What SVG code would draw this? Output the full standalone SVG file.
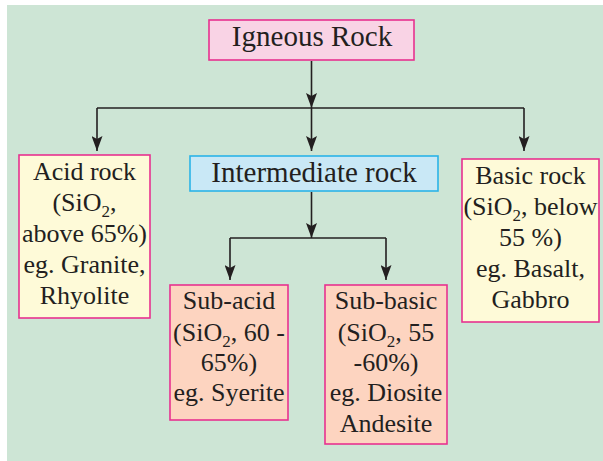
<svg xmlns="http://www.w3.org/2000/svg" width="603" height="461" viewBox="0 0 603 461">
<style>
  text { font-family: 'Liberation Serif', 'Times New Roman', serif; fill: #231f20; text-anchor: middle; }
  .t { font-size: 29px; }
  .b { font-size: 26px; }
  .sub { font-size: 17px; }
  .pink { fill: #f9d3e5; stroke: #e8318f; stroke-width: 1.6; }
  .yel { fill: #fefad8; stroke: #e8318f; stroke-width: 1.6; }
  .blue { fill: #c9e8f6; stroke: #2bb3e8; stroke-width: 1.6; }
  .peach { fill: #fdd4c0; stroke: #e8318f; stroke-width: 1.6; }
  .ln { fill: none; stroke: #231f20; stroke-width: 1.6; }
</style>
<defs>
  <marker id="ah" markerUnits="userSpaceOnUse" markerWidth="15" markerHeight="11" viewBox="0 0 15 11" refX="15" refY="5.5" orient="auto">
    <path d="M0,0 L15,5.5 L0,11 L3,5.5 Z" fill="#231f20"/>
  </marker>
</defs>
<rect x="7" y="5" width="596" height="456" fill="#cde5d5"/>

<g id="connectors">
  <path class="ln" d="M311.5,61 V108" marker-end="url(#ah)"/>
  <path class="ln" d="M97,108 H524"/>
  <path class="ln" d="M97,108 V151" marker-end="url(#ah)"/>
  <path class="ln" d="M311.5,108 V151" marker-end="url(#ah)"/>
  <path class="ln" d="M524,108 V151" marker-end="url(#ah)"/>
  <path class="ln" d="M311.5,192 V238" marker-end="url(#ah)"/>
  <path class="ln" d="M230,238 H386"/>
  <path class="ln" d="M230,238 V280" marker-end="url(#ah)"/>
  <path class="ln" d="M386,238 V280" marker-end="url(#ah)"/>
</g>

<g id="igneous">
  <rect class="pink" x="209" y="20" width="205" height="40"/>
  <text class="t" x="312" y="46">Igneous Rock</text>
</g>

<g id="acid">
  <rect class="yel" x="19" y="155" width="131" height="163"/>
  <text class="b" x="84.5" y="180">Acid rock</text>
  <text class="b" x="84.5" y="211">(SiO<tspan class="sub" dy="6">2</tspan><tspan dy="-6">,</tspan></text>
  <text class="b" x="84.5" y="242">above 65%)</text>
  <text class="b" x="84.5" y="273">eg. Granite,</text>
  <text class="b" x="84.5" y="304">Rhyolite</text>
</g>

<g id="intermediate">
  <rect class="blue" x="190" y="156" width="248" height="35"/>
  <text class="t" x="314" y="182">Intermediate rock</text>
</g>

<g id="basic">
  <rect class="yel" x="462" y="159" width="137" height="163"/>
  <text class="b" x="530.5" y="184">Basic rock</text>
  <text class="b" x="530.5" y="215">(SiO<tspan class="sub" dy="6">2</tspan><tspan dy="-6">, below</tspan></text>
  <text class="b" x="530.5" y="246">55 %)</text>
  <text class="b" x="530.5" y="277">eg. Basalt,</text>
  <text class="b" x="530.5" y="308">Gabbro</text>
</g>

<g id="subacid">
  <rect class="peach" x="170" y="285" width="118" height="135"/>
  <text class="b" x="229" y="309">Sub-acid</text>
  <text class="b" x="229" y="341">(SiO<tspan class="sub" dy="6">2</tspan><tspan dy="-6">, 60 -</tspan></text>
  <text class="b" x="229" y="371">65%)</text>
  <text class="b" x="229" y="401">eg. Syerite</text>
</g>

<g id="subbasic">
  <rect class="peach" x="325" y="285" width="122" height="159"/>
  <text class="b" x="386" y="309">Sub-basic</text>
  <text class="b" x="386" y="341">(SiO<tspan class="sub" dy="6">2</tspan><tspan dy="-6">, 55</tspan></text>
  <text class="b" x="386" y="371">-60%)</text>
  <text class="b" x="386" y="401">eg. Diosite</text>
  <text class="b" x="386" y="432">Andesite</text>
</g>
</svg>
